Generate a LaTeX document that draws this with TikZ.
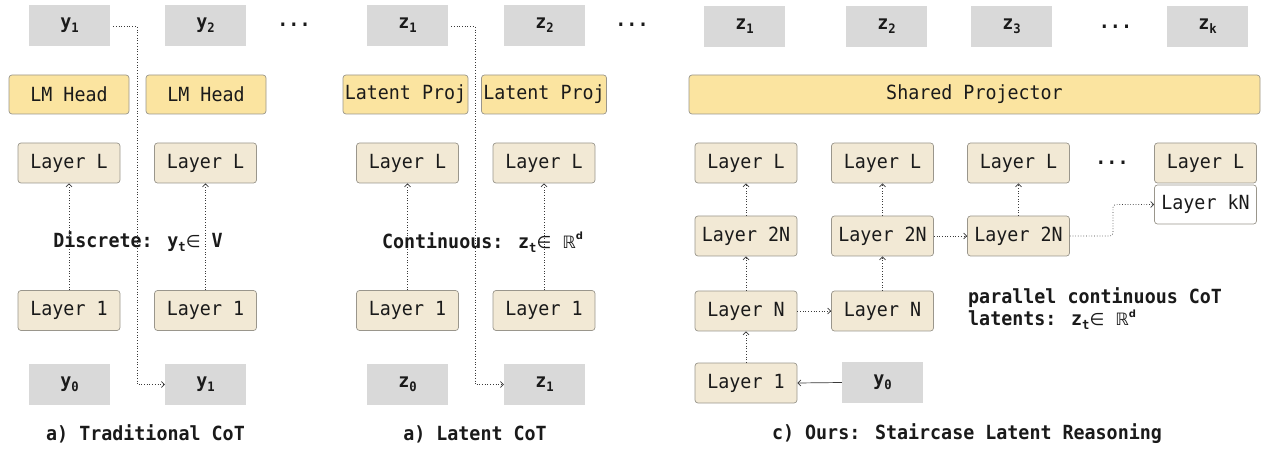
\documentclass[tikz,border=0pt]{standalone}
\usepackage{fontspec}
\usetikzlibrary{arrows.meta,calc}
\newfontfamily\mymono[FakeStretch=0.94]{DejaVu Sans Mono}
\newfontfamily\mysym{DejaVu Sans}
\definecolor{tokgray}{HTML}{D9D9D9}
\definecolor{layerfill}{HTML}{F2E9D5}
\definecolor{headfill}{HTML}{FBE4A0}
\definecolor{edgegray}{HTML}{9A968C}
\definecolor{linegray}{HTML}{3A3A3A}
\definecolor{txt}{HTML}{1A1A1A}
\newcommand{\mybx}{\mymono\fontsize{19.5}{22}\selectfont}
\newcommand{\mytk}{\mymono\bfseries\fontsize{19.5}{22}\selectfont}
\newcommand{\mysub}[1]{\raisebox{-0.2em}{\fontsize{13}{13}\selectfont #1}}
\newcommand{\myin}{{\mysym\mdseries\fontsize{17}{17}\selectfont ∈}}
\newcommand{\myR}{{\mysym\mdseries\fontsize{17}{17}\selectfont ℝ}\raisebox{0.45em}{\mysym\bfseries\fontsize{10}{10}\selectfont d}}
\tikzset{
  tok/.style={fill=tokgray, minimum width=81, minimum height=41, inner sep=0, font=\mytk, text=txt},
  layer/.style={draw=edgegray, fill=layerfill, rounded corners=3, minimum width=102, minimum height=40, inner sep=0, font=\mybx, text=txt, line width=0.7},
  head/.style={draw=edgegray, fill=headfill, rounded corners=3, minimum height=39, inner sep=0, font=\mybx, text=txt, line width=0.7},
  flow/.style={dotted, line width=0.7, draw=linegray, -{Straight Barb[length=3pt,width=6pt]}},
  solidflow/.style={line width=0.7, draw=linegray, -{Straight Barb[length=3pt,width=6pt]}},
  lbl/.style={font=\mytk, text=txt, inner sep=0},
  dots/.style={font=\mytk, text=txt, inner sep=0},
}
\begin{document}
\begin{tikzpicture}[x=1pt,y=-1pt]
\useasboundingbox (0,0) rectangle (1262,449);
% ---------- panel a ----------
\node[tok] (ay1t) at (69.5,25.5) {y\mysub{1}};
\node[tok] (ay2t) at (205.5,25.5) {y\mysub{2}};
\node[dots] (adots) at (294,25) {...};
\node[head, minimum width=120] (ahead1) at (69,94.5) {LM Head};
\node[head, minimum width=120] (ahead2) at (206,94.5) {LM Head};
\node[layer] (aL1) at (69,163) {Layer L};
\node[layer] (aL2) at (205.5,163) {Layer L};
\node[layer] (a11) at (69,310.5) {Layer 1};
\node[layer] (a12) at (205.5,310.5) {Layer 1};
\node[tok] (ay0) at (69.5,384.5) {y\mysub{0}};
\node[tok] (ay1b) at (205.5,384.5) {y\mysub{1}};
\coordinate (aturn) at (137,26.5);
\draw[flow] (a11.north) -- (aL1.south);
\draw[flow] (a12.north) -- (aL2.south);
\draw[flow, shorten <=3pt] (ay1t.east |- aturn) -- (aturn) |- (ay1b.west);
\node[lbl] (alabel) at (138,242) {Discrete: y\mysub{t}\myin\ V};
\node[lbl] (acap) at (145.5,434) {a) Traditional CoT};
% ---------- panel b ----------
\node[tok] (bz1t) at (407.5,25.5) {z\mysub{1}};
\node[tok] (bz2t) at (544.5,25.5) {z\mysub{2}};
\node[dots] (bdots) at (632,25) {...};
\node[head, minimum width=125] (bproj1) at (405.5,94.5) {Latent Proj};
\node[head, minimum width=125] (bproj2) at (544,94.5) {Latent Proj};
\node[layer] (bL1) at (407.5,163) {Layer L};
\node[layer] (bL2) at (544,163) {Layer L};
\node[layer] (b11) at (407.5,310.5) {Layer 1};
\node[layer] (b12) at (544,310.5) {Layer 1};
\node[tok] (bz0) at (407.5,384.5) {z\mysub{0}};
\node[tok] (bz1b) at (544.5,384.5) {z\mysub{1}};
\coordinate (bturn) at (475,26.5);
\draw[flow] (b11.north) -- (bL1.south);
\draw[flow] (b12.north) -- (bL2.south);
\draw[flow, shorten <=3pt] (bz1t.east |- bturn) -- (bturn) |- (bz1b.west);
\node[lbl] (blabel) at (482.5,242) {Continuous: z\mysub{t}\myin\ \myR};
\node[lbl] (bcap) at (475,434) {a) Latent CoT};
% ---------- panel c ----------
\node[tok] (cz1) at (744.5,26.5) {z\mysub{1}};
\node[tok] (cz2) at (886.5,26.5) {z\mysub{2}};
\node[tok] (cz3) at (1011.5,26.5) {z\mysub{3}};
\node[dots] (cdots1) at (1115.5,27) {...};
\node[tok] (czk) at (1207.5,26.5) {z\mysub{k}};
\node[head, minimum width=571] (cproj) at (974.5,94.5) {Shared Projector};
% column 1
\node[layer] (c1L) at (746,163) {Layer L};
\node[layer] (c12N) at (746,236) {Layer 2N};
\node[layer] (c1N) at (746,311) {Layer N};
\node[layer] (c11) at (746,383) {Layer 1};
% column 2
\node[layer] (c2L) at (882.5,163) {Layer L};
\node[layer] (c22N) at (882.5,236) {Layer 2N};
\node[layer] (c2N) at (882.5,311) {Layer N};
% column 3
\node[layer] (c3L) at (1018.5,163) {Layer L};
\node[layer] (c32N) at (1018.5,236) {Layer 2N};
% column k
\node[dots] (cdots2) at (1112,163) {...};
\node[layer] (ckL) at (1205.5,163) {Layer L};
\node[layer, fill=white, minimum height=39] (ckN) at (1205.5,204.5) {Layer kN};
\node[tok] (cy0) at (882.5,382.5) {y\mysub{0}};
% connectors
\draw[solidflow] (cy0.west) -- (c11.east);
\draw[flow] (c11.north) -- (c1N.south);
\draw[flow] (c1N.north) -- (c12N.south);
\draw[flow] (c12N.north) -- (c1L.south);
\draw[flow] (c2N.north) -- (c22N.south);
\draw[flow] (c22N.north) -- (c2L.south);
\draw[flow] (c32N.north) -- (c3L.south);
\draw[flow] (c1N.east) -- (c2N.west);
\draw[flow] (c22N.east) -- (c32N.west);
\coordinate (cturn) at (1113,236);
\draw[flow, rounded corners=3] (c32N.east) -- (cturn) |- (ckN.west);
\node[lbl, align=left, anchor=west] (clabel) at (968,309) {parallel continuous CoT\\latents: z\mysub{t}\myin\ \myR};
\node[lbl] (ccap) at (967,433.5) {c) Ours: Staircase Latent Reasoning};
\end{tikzpicture}
\end{document}
